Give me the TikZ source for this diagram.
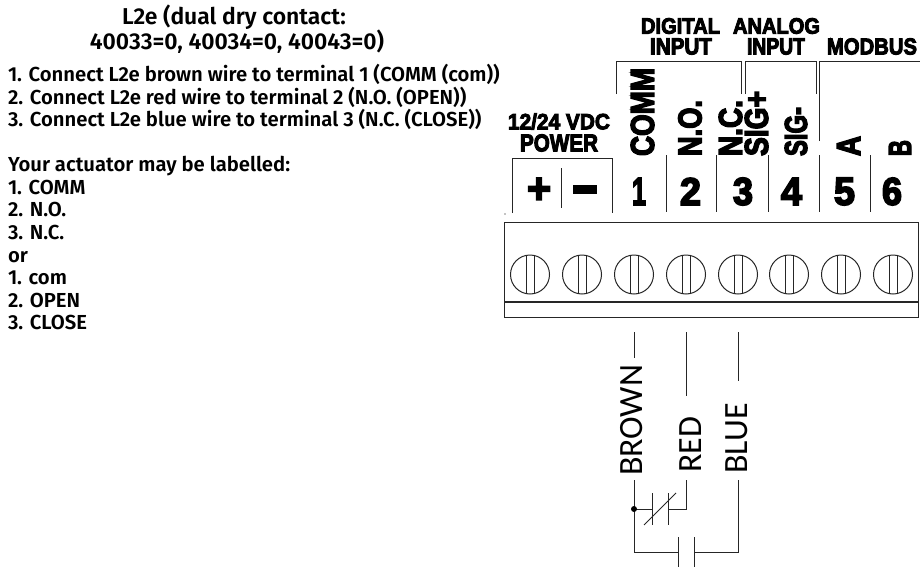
\documentclass[tikz,border=0pt]{standalone}
\usepackage{graphicx}
\usepackage{fontspec}
\setmainfont{Fira Sans}
\newfontfamily\metafont{Fira Sans SemiBold}
\newfontfamily\heavy{Liberation Sans Bold}[FakeBold=4.5]
\newfontfamily\wirefont{Carlito}
\newdimen\pxu \pxu=.75pt
\newcommand\hl[3]{\resizebox{#1\pxu}{#2\pxu}{\heavy #3}}
\tikzset{
  px/.style={x=.75pt,y=-.75pt},
  ln/.style={line width=1pt*.75,draw=black!85},
  lab/.style={inner sep=0pt,outer sep=0pt,anchor=center},
  bodytxt/.style={inner sep=0pt,outer sep=0pt,anchor=base west,font=\metafont\fontsize{15.2pt}{16pt}\selectfont},
  titletxt/.style={inner sep=0pt,outer sep=0pt,anchor=base,font=\metafont\fontsize{17.2pt}{18pt}\selectfont},
  wirelab/.style={inner sep=0pt,outer sep=0pt,anchor=center,rotate=90,font=\wirefont\fontsize{25.5pt}{25pt}\selectfont},
}
\begin{document}
\begin{tikzpicture}[px]
\useasboundingbox (0,0) rectangle (920,567);
% left text
\node[titletxt] (t1) at (234,25) {L2e (dual dry contact:};
\node[titletxt] (t2) at (237,50) {40033=0, 40034=0, 40043=0)};
\node[bodytxt] (b1) at (8,82) {1. Connect L2e brown wire to terminal 1 (COMM (com))};
\node[bodytxt] (b2) at (8,104) {2. Connect L2e red wire to terminal 2 (N.O. (OPEN))};
\node[bodytxt] (b3) at (8,126) {3. Connect L2e blue wire to terminal 3 (N.C. (CLOSE))};
\node[bodytxt] (b4) at (8,171) {Your actuator may be labelled:};
\node[bodytxt] (b5) at (8,194) {1. COMM};
\node[bodytxt] (b6) at (8,216) {2. N.O.};
\node[bodytxt] (b7) at (8,239) {3. N.C.};
\node[bodytxt] (b8) at (8,262) {or};
\node[bodytxt] (b9) at (8,284) {1. com};
\node[bodytxt] (b10) at (8,307) {2. OPEN};
\node[bodytxt] (b11) at (8,329) {3. CLOSE};
% headings
\node[lab] (h1) at (680.5,26) {\hl{79}{15.5}{DIGITAL}};
\node[lab] (h2) at (681,46.5) {\hl{62}{16}{INPUT}};
\node[lab] (h3) at (776.5,26) {\hl{87}{15.5}{ANALOG}};
\node[lab] (h4) at (776,46.5) {\hl{58}{16}{INPUT}};
\node[lab] (h5) at (872,46.5) {\hl{90}{16}{MODBUS}};
\node[lab] (h6) at (559,121.5) {\hl{102}{16}{12/24 VDC}};
\node[lab] (h7) at (559,143) {\hl{78}{17}{POWER}};
% rotated
\node[lab,rotate=90] (r1) at (642.5,112) {\hl{88}{23}{COMM}};
\node[lab,rotate=90] (r2) at (690,128) {\hl{56}{23}{N.O.}};
\node[lab,rotate=90] (r3) at (730.5,128) {\hl{56}{23}{N.C.}};
\node[lab,rotate=90] (r4) at (756.5,123.5) {\hl{65}{23}{SIG+}};
\node[lab,rotate=90] (r5) at (796,131.5) {\hl{49}{22}{SIG-}};
\node[lab,rotate=90] (r6) at (848.5,146) {\hl{20}{23}{A}};
\node[lab,rotate=90] (r7) at (900,148) {\hl{16}{22}{B}};
% digits
\node[lab] (d0) at (539,190.5) {\hl{24}{25}{+}};
\fill[black] (573,185) rectangle (597,194);
\node[lab] (d1) at (639,191.5) {\hl{14}{27}{1}};
\node[lab] (d2) at (690.5,191.5) {\hl{21}{27}{2}};
\node[lab] (d3) at (743,191.5) {\hl{20}{27}{3}};
\node[lab] (d4) at (791.5,191.5) {\hl{21}{27}{4}};
\node[lab] (d5) at (844.5,191.5) {\hl{21}{27}{5}};
\node[lab] (d6) at (892,191.5) {\hl{20}{27}{6}};
% brackets
\coordinate (da) at (616,94); \coordinate (db) at (741,94);
\draw[ln] (da) -- (616,62) -- (741,62) -- (db);
\coordinate (aa) at (745,94); \coordinate (ab) at (816,94);
\draw[ln] (aa) -- (745,62) -- (816,62) -- (ab);
\coordinate (ma) at (819,141); \coordinate (mb) at (920,62);
\draw[ln] (ma) -- (819,62) -- (mb);
% power box and separators
\coordinate (pa) at (512,213); \coordinate (pb) at (612,213);
\draw[ln] (pa) -- (512,158) -- (612,158) -- (pb);
\draw[ln] (561,168) -- (561,208);
\foreach \n/\x in {s1/666,s2/716.5,s3/768,s4/819,s5/870}{
  \coordinate (\n a) at (\x,155); \coordinate (\n b) at (\x,212);
  \draw[ln] (\n a) -- (\n b);
}
\fill (505,214) circle (.6);
% terminal block
\draw[ln] (504.5,222) rectangle (918,317);
\draw[ln,line width=1.4pt*.75] (504.5,302) -- (918,302);
\foreach \n/\x in {1/530,2/582,3/634,4/686,5/738,6/789,7/841,8/893}{
  \node[circle,draw=black!85,line width=.75pt,minimum size=39*.75pt,inner sep=0pt] (sc\n) at (\x,274.5) {};
  \draw[ln] (\x-4,255.3) -- (\x-4,293.7) (\x+4,255.3) -- (\x+4,293.7);
}
% wires
\coordinate (bt) at (634,332); \coordinate (rt) at (686,332); \coordinate (ut) at (738,332);
\coordinate (bb) at (634,358); \coordinate (rb) at (686,396); \coordinate (ub) at (738,381);
\node[wirelab] (brown) at (632,420.5) {BROWN};
\node[wirelab] (red) at (691,444.5) {RED};
\node[wirelab] (blue) at (737,438.5) {BLUE};
\draw[ln] (bt) -- (bb);
\draw[ln] (rt) -- (rb);
\draw[ln] (ut) -- (ub);
% contacts
\coordinate (j) at (634,509);
\coordinate (c1l) at (678,552); \coordinate (c1r) at (694,552);
\coordinate (c2l) at (652,509); \coordinate (c2r) at (668,509);
\draw[ln] (634,480) -- (634,552) -- (c1l);
\draw[ln] (678,537) -- (678,567);
\draw[ln] (694,537) -- (694,567);
\draw[ln] (c1r) -- (738,552) -- (738,480);
\draw[ln] (686,480) -- (686,509) -- (c2r);
\draw[ln] (668,493) -- (668,525);
\draw[ln] (652,493) -- (652,525);
\draw[ln] (c2l) -- (j);
\draw[ln] (644,525) -- (676,493);
\fill (j) circle (3);
\end{tikzpicture}
\end{document}
